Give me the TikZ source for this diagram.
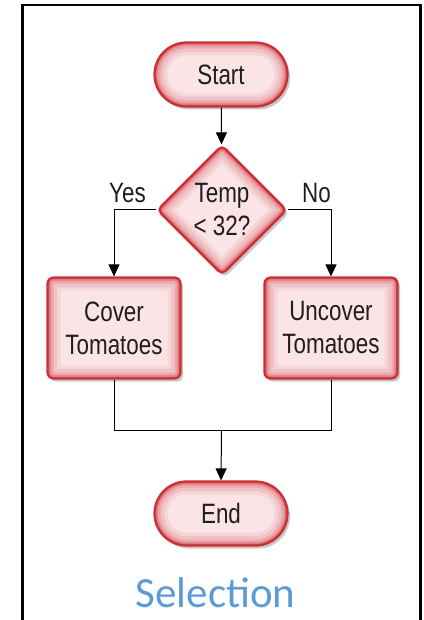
\documentclass[tikz,border=0pt]{standalone}
\usepackage{fontspec}
\usetikzlibrary{shapes.geometric,arrows.meta,shadows}
\newfontfamily\nodefont[FakeStretch=0.8]{Liberation Sans}
\newfontfamily\selfont{Carlito}
\definecolor{redline}{RGB}{204,46,52}
\definecolor{pinkfill}{RGB}{250,228,230}
\definecolor{txt}{RGB}{30,30,30}
\definecolor{selblue}{RGB}{91,155,213}
\newcommand\glowrect[1]{%
  \foreach \w/\o in {26/0.08,19/0.11,12/0.17,7/0.27,3.5/0.45}{%
    \draw[redline, line width=\w pt, opacity=\o, rounded corners=#1]
      (path picture bounding box.south west) rectangle (path picture bounding box.north east);}}
\newcommand\glowdiam{%
  \foreach \w/\o in {26/0.08,19/0.11,12/0.17,7/0.27,3.5/0.45}{%
    \draw[redline, line width=\w pt, opacity=\o, rounded corners=5pt]
      (path picture bounding box.north) -- (path picture bounding box.east) --
      (path picture bounding box.south) -- (path picture bounding box.west) -- cycle;}}
\tikzset{
  base/.style={fill=pinkfill, draw=redline, line width=2.2pt, text=txt,
    font=\nodefont\fontsize{28}{33}\selectfont, align=center, inner sep=0pt,
    drop shadow={shadow xshift=2.5pt, shadow yshift=-3pt, opacity=0.22, fill=black}},
  term/.style={base, rectangle, rounded corners=32pt, minimum width=133pt, minimum height=64pt,
    path picture={\glowrect{32pt}}},
  proc/.style={base, rectangle, rounded corners=6pt, minimum width=133pt, minimum height=101pt,
    path picture={\glowrect{6pt}}},
  dec/.style={base, diamond, aspect=1, rounded corners=5pt, minimum width=130pt, minimum height=130pt,
    path picture={\glowdiam}},
  conn/.style={line width=1pt, black},
  arr/.style={conn, -{Triangle[length=12pt,width=11pt]}},
  lbl/.style={text=txt, font=\nodefont\fontsize{28}{33}\selectfont, inner sep=0pt},
  frame/.style={line width=2.6pt, black}
}
\begin{document}
\begin{tikzpicture}[x=1pt,y=-1pt]
\useasboundingbox (0,0) rectangle (423,620);
\draw[frame] (22.5,620) -- (22.5,5) -- (420.5,5) -- (420.5,620);
\node[term] (start) at (221,74.5) {Start};
\node[dec] (dec) at (222,210) {Temp\\< 32?};
\node[proc] (cover) at (114,328) {Cover\\Tomatoes};
\node[proc] (uncover) at (331,328) {Uncover\\Tomatoes};
\node[term] (end) at (221,513.5) {End};
\node[lbl] (yes) at (127.5,193) {Yes};
\node[lbl] (no) at (316.5,193) {No};
\node[text=selblue, font=\selfont\fontsize{43}{50}\selectfont, inner sep=0pt, text depth=0pt, anchor=base] (sel) at (215.5,607) {Selection};
\coordinate (j) at (221.5,430);
\draw[arr] (start) -- (dec);
\draw[arr] (dec.west) -| (cover.north);
\draw[arr] (dec.east) -| (uncover.north);
\draw[conn] (cover.south) |- (j);
\draw[conn] (uncover.south) |- (j);
\draw[arr] (j) -- (end.north);
\end{tikzpicture}
\end{document}
